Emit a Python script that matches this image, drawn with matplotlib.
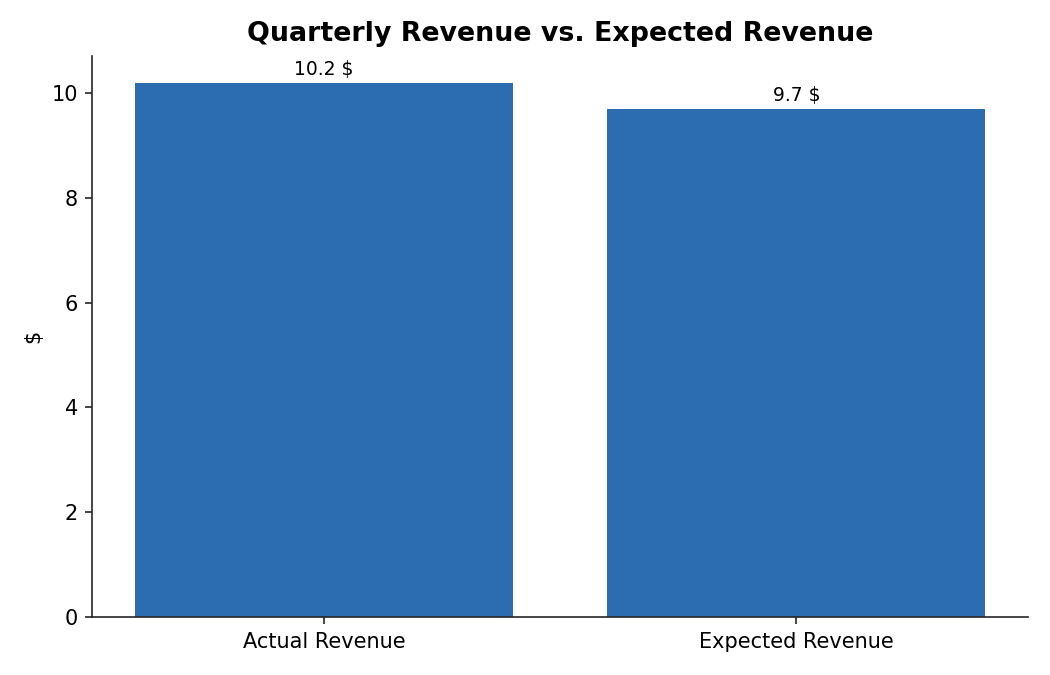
import matplotlib
matplotlib.use("Agg")
import matplotlib.pyplot as plt

labels = ["Actual Revenue", "Expected Revenue"]
values = [10.2, 9.7]

fig, ax = plt.subplots(figsize=(7, 4.5), dpi=150)
bars = ax.bar(labels, values, color="#2c6cb0", width=0.8)
for b, v in zip(bars, values):
    ax.annotate(f"{v} $", (b.get_x() + b.get_width() / 2, v),
                xytext=(0, 2), textcoords="offset points",
                ha="center", va="bottom", fontsize=9)

ax.set_title("Quarterly Revenue vs. Expected Revenue", fontsize=12.9,
             fontweight="bold", pad=7)
ax.set_ylabel("$", fontsize=10)
ax.tick_params(labelsize=10, color="#262626")
ax.spines["top"].set_visible(False)
ax.spines["right"].set_visible(False)
for s in ["left", "bottom"]:
    ax.spines[s].set_color("#262626")

plt.subplots_adjust(left=0.088, right=0.979, bottom=0.086, top=0.917)
plt.savefig("out.png")
